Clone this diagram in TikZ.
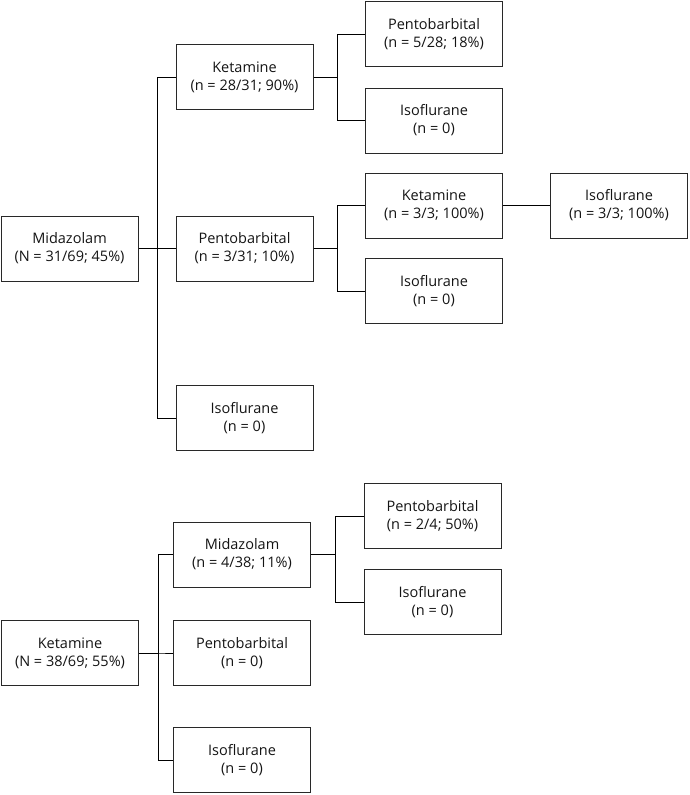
\documentclass[tikz,border=0pt]{standalone}
\usepackage{fontspec}
\setmainfont{Open Sans}
\usetikzlibrary{calc}
\definecolor{cBox}  {RGB}{40,40,40}
\definecolor{cLine} {RGB}{0,0,0}
\definecolor{cText} {RGB}{20,20,20}
\def\Wbox{137}
\def\Hbox{65}
\def\Tone{19}
\def\Ttwo{24}
\newcommand{\elbow}[3]{%
  \draw[cLine,line width=1pt] (#1.east) -- ++(#3,0) |- (#2.west);
}
\tikzset{
  drug/.style={draw=cBox,line width=1pt,text=cText,align=center,
    minimum width=\Wbox pt,minimum height=\Hbox pt,inner sep=0pt,
    font=\fontsize{14.5}{18}\selectfont}
}

\begin{document}
\begin{tikzpicture}[x=1pt,y=-1pt]

\useasboundingbox (0,0) rectangle (689,795);

% =================== MIDAZOLAM ===================
\node[drug] (mid0) at (69.5,248.5) {Midazolam\\(N = 31/69; 45\%)};

\node[drug] (mid0ket) at (244.5,77)  {Ketamine\\(n = 28/31; 90\%)};
\node[drug] (mid0pen) at (244.5,248.5) {Pentobarbital\\(n = 3/31; 10\%)};
\node[drug] (mid0iso) at (244.5,418) {Isoflurane\\(n = 0)};

% sob cetamina
\node[drug] (mid0ketpen) at (434,34)    {Pentobarbital\\(n = 5/28; 18\%)};
\node[drug] (mid0ketiso) at (434,120.5) {Isoflurane\\(n = 0)};
% sob pentobarbital
\node[drug] (mid0penket) at (434,205.5) {Ketamine\\(n = 3/3; 100\%)};
\node[drug] (mid0peniso) at (434,291)   {Isoflurane\\(n = 0)};
\node[drug] (mid0penketiso) at (619,205.5) {Isoflurane\\(n = 3/3; 100\%)};

\elbow{mid0}{mid0ket}{\Tone}
\elbow{mid0}{mid0pen}{\Tone}
\elbow{mid0}{mid0iso}{\Tone}
\elbow{mid0ket}{mid0ketpen}{\Ttwo}
\elbow{mid0ket}{mid0ketiso}{\Ttwo}
\elbow{mid0pen}{mid0penket}{\Ttwo}
\elbow{mid0pen}{mid0peniso}{\Ttwo}
\draw[cLine,line width=1pt] (mid0penket) -- (mid0penketiso);

% =================== KETAMINE ===================
\node[drug] (ket0) at (70,653) {Ketamine\\(N = 38/69; 55\%)};

\node[drug] (ket0mid) at (242,554.5) {Midazolam\\(n = 4/38; 11\%)};
\node[drug] (ket0pen) at (242,653)   {Pentobarbital\\(n = 0)};
\node[drug] (ket0iso) at (242,760)   {Isoflurane\\(n = 0)};

\node[drug] (ket0midpen) at (432.5,516) {Pentobarbital\\(n = 2/4; 50\%)};
\node[drug] (ket0midiso) at (432.5,602) {Isoflurane\\(n = 0)};

\elbow{ket0}{ket0mid}{\Tone}
\elbow{ket0}{ket0pen}{\Tone}
\elbow{ket0}{ket0iso}{\Tone}
\elbow{ket0mid}{ket0midpen}{\Ttwo}
\elbow{ket0mid}{ket0midiso}{\Ttwo}

\end{tikzpicture}
\end{document}
